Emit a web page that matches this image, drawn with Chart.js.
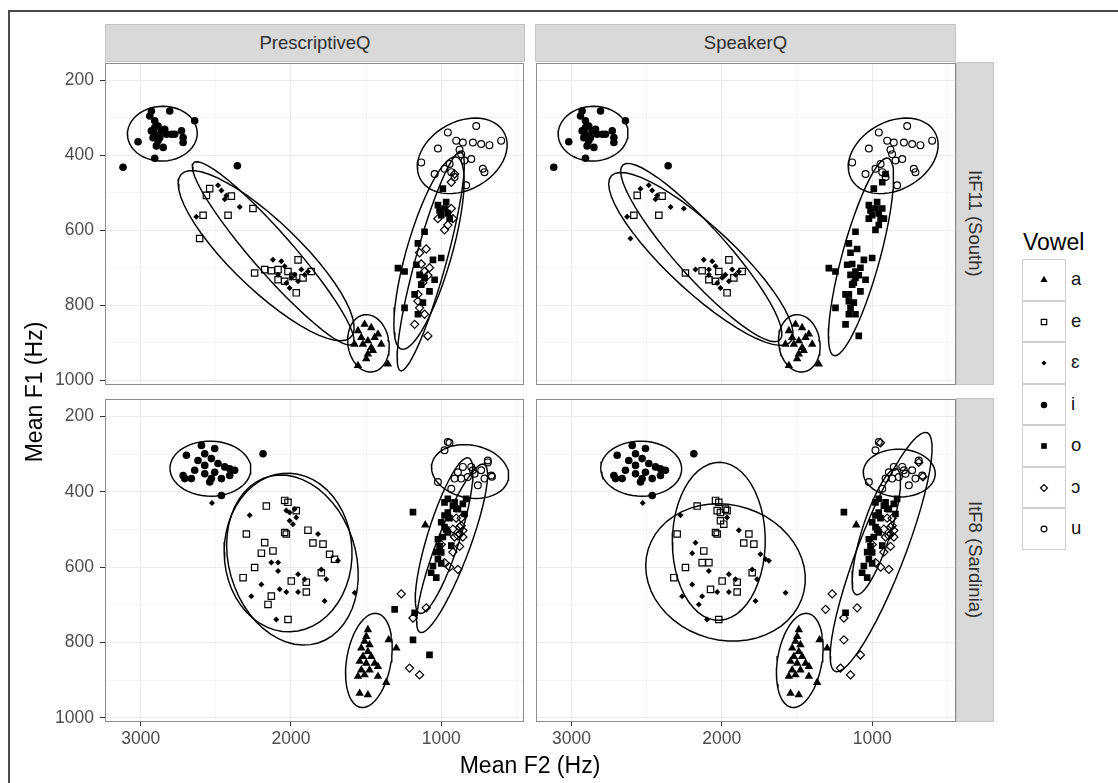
<!DOCTYPE html>
<html>
<head>
<meta charset="utf-8">
<script src="https://cdn.jsdelivr.net/npm/chart.js@4.4.1/dist/chart.umd.min.js"></script>
<style>
html,body{margin:0;padding:0;background:#fff;}
body{width:1118px;height:783px;position:relative;overflow:hidden;font-family:"Liberation Sans",Arial,Helvetica,sans-serif;}
.abs{position:absolute;}
#frame{left:8px;top:10px;width:1300px;height:1000px;border-left:2px solid #4a4a4a;border-top:2px solid #4a4a4a;box-sizing:border-box;}
.stripTop{background:#d9d9d9;border:1px solid #c4c4c4;box-sizing:border-box;display:flex;align-items:center;justify-content:center;font-size:18.5px;color:#2e2e2e;}
.stripRight{background:#d9d9d9;border:1px solid #c4c4c4;box-sizing:border-box;display:flex;align-items:center;justify-content:center;font-size:18.5px;color:#2e2e2e;writing-mode:vertical-rl;}
.title{font-size:23px;color:#000;white-space:nowrap;}
.key{width:44px;height:41.5px;border:1px solid #cfcfcf;box-sizing:border-box;background:#fff;}
.keyLab{font-size:18.5px;color:#111;}
</style>
</head>
<body>
<div id="frame" class="abs"></div>

<canvas id="c00" class="abs" width="500" height="333" style="left:30px;top:57px"></canvas>
<canvas id="c01" class="abs" width="431" height="333" style="left:530px;top:57px"></canvas>
<canvas id="c10" class="abs" width="500" height="360" style="left:30px;top:393px"></canvas>
<canvas id="c11" class="abs" width="431" height="360" style="left:530px;top:393px"></canvas>

<div id="strips"></div>
<div id="titles"></div>
<div id="legend"></div>

<script>
// ---------------- categories and tick labels ----------------
const vowels = ['a', 'e', 'ɛ', 'i', 'o', 'ɔ', 'u'];
const questionnaires = ['PrescriptiveQ', 'SpeakerQ'];
const speakers = ['ItF11 (South)', 'ItF8 (Sardinia)'];
const xMajorTicks = [3000, 2000, 1000];          // labelled
const xMinorTicks = [2500, 1500, 500];           // grid only
const yMajorTicks = [200, 400, 600, 800, 1000];  // labelled
const yMinorTicks = [300, 500, 700, 900];        // grid only
const xTitle = 'Mean F2 (Hz)';
const yTitle = 'Mean F1 (Hz)';
const legendTitle = 'Vowel';

// ---------------- ItF11 (South): tokens (F2, F1 in Hz) ----------------
// same tokens in both questionnaires; only the vowel label can differ
const f11_i_F2 = [2929,2940,2807,2907,2885,2863,2929,2907,2840,2796,2729,2718,2718,2885,2896,2851,3018,2641,2907,2918,2874,3118,2357,2907,2829,2774];
const f11_i_F1 = [282,295,282,308,322,335,335,344,331,344,335,353,366,361,375,379,364,308,408,353,353,432,428,326,344,344];
const f11_a_F2 = [1510,1554,1466,1532,1488,1443,1521,1466,1399,1488,1554,1355,1499,1455,1421,1577];
const f11_a_F1 = [851,868,860,886,895,886,904,913,904,930,961,957,943,921,877,904];
const f11_u_F2 = [767,956,601,900,856,789,734,679,1022,878,867,800,1133,944,845,723,712,1044,978,911,834,933];
const f11_u_F1 = [322,339,361,361,366,366,370,373,382,385,397,410,419,423,414,436,445,450,436,458,480,445];
// front mid vowels (e / ɛ)
const f11_front_F2 = [2563,2397,2585,2419,2253,2608,2541, 2486,2463,2430,2441,2341,2630, 2242,2175,2131,2086,2020,1953,1865,1965,2086,2042, 2120,2064,2042,2086,1998,1953,1909,1887,1931,1976,2031,2009, 1987,1920];
const f11_front_F1 = [507,509,560,560,542,622,489, 480,494,507,517,538,564, 714,705,708,705,710,679,710,767,732,736, 679,683,696,719,727,736,719,710,705,719,741,754, 723,727];
const f11_front_prescQ = ['e','e','e','e','e','e','e', 'ɛ','ɛ','ɛ','ɛ','ɛ','ɛ', 'e','e','e','e','e','e','e','e','e','e', 'ɛ','ɛ','ɛ','ɛ','ɛ','ɛ','ɛ','ɛ','ɛ','ɛ','ɛ','ɛ', 'e','e'];
const f11_front_speakerQ = ['e','e','e','e','ɛ','ɛ','ɛ', 'ɛ','ɛ','ɛ','ɛ','ɛ','ɛ', 'e','ɛ','e','ɛ','e','e','e','e','e','e', 'ɛ','ɛ','ɛ','ɛ','ɛ','ɛ','ɛ','ɛ','ɛ','ɛ','ɛ','ɛ', 'ɛ','e'];
// back mid vowels: labelled o in both / labelled ɔ (PrescriptiveQ) and o (SpeakerQ)
const f11_o_F2 = [989,1022,978,956,1000,944,967,1011,1111,1155,1055,1000,1288,1244,1166,1144,1111,1044,1133,1078,1177,1244,1155,1122];
const f11_o_F1 = [489,533,542,555,560,569,525,547,604,635,679,674,701,710,692,719,727,732,745,763,771,807,824,793];
const f11_oo_F2 = [978,933,1022,922,956,911,933,1100,1133,1111,1122,1078,1144,1089,1155,1144,1111,1177,1089,1155];
const f11_oo_F1 = [599,542,569,569,586,450,472,650,690,710,740,700,660,720,771,807,824,851,882,789];

// ---------------- ItF8 (Sardinia) ----------------
const f8_i_F2 = [2696,2596,2508,2574,2530,2619,2574,2486,2441,2408,2375,2508,2574,2530,2641,2707,2663,2463,2541,2463,2718,2408,2186];
const f8_i_F1 = [303,277,285,299,312,317,330,325,334,339,343,348,352,365,343,365,365,365,374,410,357,357,299];
const f8_a_F2 = [1488,1499,1510,1477,1532,1488,1521,1466,1543,1499,1443,1532,1477,1421,1510,1554,1421,1366,1350,1299,1543,1488,1106];
const f8_a_F1 = [766,784,797,806,815,824,837,837,850,855,855,873,873,864,886,890,890,906,793,815,935,939,488];
const f8_u_F2 = [956,978,856,800,889,823,778,712,667,911,867,1022,756,933,690,789,734, 945,690,662];
const f8_u_F1 = [268,290,334,334,348,361,352,365,357,365,365,374,383,392,317,343,343, 270,322,360];
const f8_u_speakerQ = ['u','u','u','u','u','u','u','u','u','u','u','u','u','u','u','u','u', 'ɔ','ɔ','ɔ'];
const f8_front_F2 = [2164,2042,2020,1965,2297,2042,2031,1887,1854,1787,2175,2120,2197,2242,2319,1998,1898,1898,2131,2153,2020,1743,1710,1798,
                     2526,2275,2031,1976,1965,1987,2009,1820,2131,2086,2086,2197,2264,2075,2031,1953,1953,1909,1798,1765,1776,1576,2098,1687,2009];
const f8_front_F1 = [438,423,428,450,512,508,512,502,536,539,535,557,563,601,628,637,640,666,677,699,739,566,579,615,
                     430,462,450,446,468,486,477,512,588,588,610,646,677,659,666,666,619,632,606,632,690,668,739,583,455];
const f8_front_prescQ = ['e','e','e','e','e','e','e','e','e','e','e','e','e','e','e','e','e','e','e','e','e','e','e','e',
                         'ɛ','ɛ','ɛ','ɛ','ɛ','ɛ','ɛ','ɛ','ɛ','ɛ','ɛ','ɛ','ɛ','ɛ','ɛ','ɛ','ɛ','ɛ','ɛ','ɛ','ɛ','ɛ','ɛ','ɛ','ɛ'];
const f8_front_speakerQ = ['e','e','e','e','e','e','e','ɛ','e','e','ɛ','e','ɛ','e','e','e','e','e','ɛ','ɛ','e','ɛ','ɛ','e',
                           'ɛ','ɛ','e','e','ɛ','e','e','e','e','e','ɛ','ɛ','ɛ','e','ɛ','ɛ','ɛ','ɛ','ɛ','ɛ','ɛ','ɛ','ɛ','ɛ','e'];
const f8_o_F2 = [1188,834,956,978,922,889,856,845,1000,978,956,1022,933,1000,1022,1055,1067,1033,1310,1177,1188,1078,978,911, 900,945,967,989,1011,1000,956,1033];
const f8_o_F1 = [454,419,419,428,437,446,432,459,481,494,508,526,543,561,579,597,615,628,712,721,793,833,463,428, 445,470,500,520,545,590,455,560];
const f8_o_speakerQ = ['o','o','o','o','o','o','o','o','o','o','o','o','o','o','o','o','o','o','ɔ','o','ɔ','ɔ','o','o', 'o','o','o','o','o','o','o','o'];
const f8_oo_F2 = [878,856,889,867,922,878,978,889,1266,1100,1188,1211,1144,900,1000, 867,856,911,922,878,944];
const f8_oo_F1 = [494,503,517,490,499,512,588,606,671,708,735,868,886,470,540, 470,520,520,560,545,600];

// ---------------- assemble groups (label per questionnaire) ----------------
const speakerGroups = [
  [ {F2:f11_i_F2, F1:f11_i_F1, lab:['i','i']},
    {F2:f11_a_F2, F1:f11_a_F1, lab:['a','a']},
    {F2:f11_u_F2, F1:f11_u_F1, lab:['u','u']},
    {F2:f11_front_F2, F1:f11_front_F1, lab:[f11_front_prescQ, f11_front_speakerQ]},
    {F2:f11_o_F2, F1:f11_o_F1, lab:['o','o']},
    {F2:f11_oo_F2, F1:f11_oo_F1, lab:['ɔ','o']} ],
  [ {F2:f8_i_F2, F1:f8_i_F1, lab:['i','i']},
    {F2:f8_a_F2, F1:f8_a_F1, lab:['a','a']},
    {F2:f8_u_F2, F1:f8_u_F1, lab:['u', f8_u_speakerQ]},
    {F2:f8_front_F2, F1:f8_front_F1, lab:[f8_front_prescQ, f8_front_speakerQ]},
    {F2:f8_o_F2, F1:f8_o_F1, lab:['o', f8_o_speakerQ]},
    {F2:f8_oo_F2, F1:f8_oo_F1, lab:['ɔ','ɔ']} ]
];

// ---------------- styles ----------------
const vowelStyle = {
  'a': {pointStyle:'triangle', radius:4.9, filled:true},
  'e': {pointStyle:'rect',     radius:4.5, filled:false},
  'ɛ': {pointStyle:'rectRot',  radius:3.0, filled:true},
  'i': {pointStyle:'circle',   radius:3.8, filled:true},
  'o': {pointStyle:'rect',     radius:4.7, filled:true},
  'ɔ': {pointStyle:'rectRot',  radius:4.1, filled:false},
  'u': {pointStyle:'circle',   radius:3.4, filled:false}
};
const FONT = '"Liberation Sans", Arial, Helvetica, sans-serif';
Chart.defaults.font.family = FONT;

// ---------------- stat_ellipse (type "t", level 0.95) ----------------
function statEllipse(pts, level, segments) {
  level = level || 0.95; segments = segments || 51;
  const n = pts.length, p = 2, nu = 5;
  const xs = pts.map(q => q.x), ys = pts.map(q => q.y);
  const sum = a => a.reduce((s, v) => s + v, 0);
  let w = new Array(n).fill(1);
  let loc = [sum(xs) / n, sum(ys) / n];
  let dx = [], dy = [];
  for (let iter = 0; iter < 25; iter++) {
    const w0 = w.slice();
    dx = xs.map(v => v - loc[0]); dy = ys.map(v => v - loc[1]);
    const sw = sum(w);
    let a = 0, b = 0, c = 0;
    for (let i = 0; i < n; i++) { const f = w[i] / sw; a += f*dx[i]*dx[i]; b += f*dx[i]*dy[i]; c += f*dy[i]*dy[i]; }
    const det = a*c - b*b;
    w = dx.map((_, i) => (nu + p) / (nu + (c*dx[i]*dx[i] - 2*b*dx[i]*dy[i] + a*dy[i]*dy[i]) / det));
    const sw2 = sum(w);
    loc = [sum(xs.map((v, i) => v*w[i])) / sw2, sum(ys.map((v, i) => v*w[i])) / sw2];
    if (w.every((v, i) => Math.abs(v - w0[i]) < 0.01)) break;
  }
  let a = 0, b = 0, c = 0;
  for (let i = 0; i < n; i++) { a += w[i]*dx[i]*dx[i]; b += w[i]*dx[i]*dy[i]; c += w[i]*dy[i]*dy[i]; }
  a /= n; b /= n; c /= n;
  const d = n - 1;
  const fq = (d / 2) * (Math.pow(1 - level, -2 / d) - 1);   // qf(level, 2, d)
  const radius = Math.sqrt(2 * fq);
  const r11 = Math.sqrt(a), r12 = b / r11, r22 = Math.sqrt(Math.max(c - r12*r12, 0));
  const out = [];
  for (let k = 0; k <= segments; k++) {
    const t = 2 * Math.PI * k / segments, ct = Math.cos(t), st = Math.sin(t);
    out.push({x: loc[0] + radius * r11 * ct, y: loc[1] + radius * (r12 * ct + r22 * st)});
  }
  return out;
}

// ---------------- panels ----------------
const panelBorder = {
  id: 'panelBorder',
  afterDraw(chart) {
    const {ctx, chartArea: ar} = chart;
    ctx.save();
    ctx.strokeStyle = '#8c8c8c'; ctx.lineWidth = 1;
    ctx.strokeRect(Math.round(ar.left) + 0.5, Math.round(ar.top) + 0.5, Math.round(ar.right - ar.left) - 1, Math.round(ar.bottom - ar.top) - 1);
    ctx.restore();
  }
};

const isMajorX = v => xMajorTicks.includes(v);
const isMajorY = v => yMajorTicks.includes(v);

function buildPanel(id, row, col) {
  const groups = speakerGroups[row];
  const showX = row === 1, showY = col === 0;
  const pointsByVowel = {};
  vowels.forEach(v => pointsByVowel[v] = []);
  groups.forEach(g => {
    for (let i = 0; i < g.F2.length; i++) {
      const l = Array.isArray(g.lab[col]) ? g.lab[col][i] : g.lab[col];
      pointsByVowel[l].push({x: g.F2[i], y: g.F1[i]});
    }
  });
  const datasets = [];
  vowels.forEach(v => {
    const pts = pointsByVowel[v];
    if (!pts.length) return;
    const st = vowelStyle[v];
    datasets.push({
      label: v, data: pts, order: 1, clip: 0,
      pointStyle: st.pointStyle, pointRadius: st.radius, pointHoverRadius: st.radius,
      pointBackgroundColor: st.filled ? '#000' : 'rgba(0,0,0,0)',
      pointBorderColor: '#000', pointBorderWidth: st.filled ? 0 : 1.2, showLine: false
    });
    if (pts.length >= 3) {
      datasets.push({
        label: v + ' ellipse', data: statEllipse(pts), order: 0, clip: 0,
        showLine: true, pointRadius: 0, pointHoverRadius: 0,
        borderColor: '#000', borderWidth: 1.45, fill: false, tension: 0
      });
    }
  });
  new Chart(document.getElementById(id), {
    type: 'scatter',
    data: {datasets},
    options: {
      responsive: false, animation: false, devicePixelRatio: 1,
      layout: {padding: {top: 5, right: 5, bottom: showX ? 0 : 5, left: showY ? 0 : 5}},
      plugins: {legend: {display: false}, tooltip: {enabled: false}},
      events: [],
      scales: {
        x: {
          type: 'linear', position: 'bottom', reverse: true, min: 447, max: 3238,
          afterBuildTicks: s => { s.ticks = xMajorTicks.concat(xMinorTicks).sort((p, q) => p - q).map(v => ({value: v})); },
          afterFit: s => { s.paddingLeft = 0; s.paddingRight = 0; },
          border: {display: false},
          grid: {
            color: c => isMajorX(c.tick.value) ? '#ebebeb' : '#f4f4f4',
            lineWidth: c => isMajorX(c.tick.value) ? 1 : 0.8,
            drawTicks: showX, tickLength: 4, tickWidth: 1,
            tickColor: c => isMajorX(c.tick.value) ? '#333' : 'rgba(0,0,0,0)'
          },
          ticks: {
            display: showX, autoSkip: false, maxRotation: 0, minRotation: 0,
            color: '#4d4d4d', font: {size: 17.5, family: FONT}, padding: 3,
            callback: v => isMajorX(v) ? String(v) : ''
          }
        },
        y: {
          type: 'linear', position: 'left', reverse: true, min: 153, max: 1011,
          afterBuildTicks: s => { s.ticks = yMajorTicks.concat(yMinorTicks).sort((p, q) => p - q).map(v => ({value: v})); },
          afterFit: s => { s.width = showY ? 75 : 0; s.paddingTop = 0; s.paddingBottom = 0; },
          border: {display: false},
          grid: {
            color: c => isMajorY(c.tick.value) ? '#ebebeb' : '#f4f4f4',
            lineWidth: c => isMajorY(c.tick.value) ? 1 : 0.8,
            drawTicks: showY, tickLength: 5, tickWidth: 1,
            tickColor: c => isMajorY(c.tick.value) ? '#333' : 'rgba(0,0,0,0)'
          },
          ticks: {
            display: showY, autoSkip: false,
            color: '#4d4d4d', font: {size: 17.5, family: FONT}, padding: 6,
            callback: v => isMajorY(v) ? String(v) : ''
          }
        }
      }
    },
    plugins: [panelBorder]
  });
}
buildPanel('c00', 0, 0);
buildPanel('c01', 0, 1);
buildPanel('c10', 1, 0);
buildPanel('c11', 1, 1);

// ---------------- strips, titles ----------------
const strips = document.getElementById('strips');
const colLeft = [105, 535], colWidth = [420, 421];
const rowTop = [62, 398], rowHeight = [323, 324];
questionnaires.forEach((q, j) => {
  const d = document.createElement('div');
  d.className = 'abs stripTop';
  d.style.cssText = `left:${colLeft[j]}px;top:24px;width:${colWidth[j]}px;height:38px;`;
  d.textContent = q; strips.appendChild(d);
});
speakers.forEach((s, i) => {
  const d = document.createElement('div');
  d.className = 'abs stripRight';
  d.style.cssText = `left:956px;top:${rowTop[i]}px;width:38px;height:${rowHeight[i]}px;`;
  d.textContent = s; strips.appendChild(d);
});
const titles = document.getElementById('titles');
const xt = document.createElement('div');
xt.className = 'abs title';
xt.style.cssText = 'left:330px;width:400px;text-align:center;top:752px;line-height:26px;';
xt.textContent = xTitle; titles.appendChild(xt);
const yt = document.createElement('div');
yt.className = 'abs title';
yt.style.cssText = 'left:-166px;top:379px;width:400px;text-align:center;line-height:26px;transform:rotate(-90deg);';
yt.textContent = yTitle; titles.appendChild(yt);

// ---------------- legend ----------------
const legend = document.getElementById('legend');
const lt = document.createElement('div');
lt.className = 'abs title';
lt.style.cssText = 'left:1023px;top:229px;line-height:26px;';
lt.textContent = legendTitle; legend.appendChild(lt);
vowels.forEach((v, k) => {
  const top = 259 + k * 41.5;
  const box = document.createElement('div');
  box.className = 'abs key';
  box.style.cssText = `left:1022px;top:${top}px;`;
  const cv = document.createElement('canvas');
  cv.width = 44; cv.height = 41;
  cv.style.cssText = 'position:absolute;left:-1px;top:-1px;';
  box.appendChild(cv);
  legend.appendChild(box);
  const ctx = cv.getContext('2d');
  const st = vowelStyle[v];
  ctx.fillStyle = st.filled ? '#000' : 'rgba(0,0,0,0)';
  ctx.strokeStyle = '#000';
  ctx.lineWidth = st.filled ? 0 : 1.2;
  Chart.helpers.drawPoint(ctx, {pointStyle: st.pointStyle, radius: st.radius * 0.85, borderWidth: st.filled ? 0 : 1.2, rotation: 0}, 22, 21);
  const lab = document.createElement('div');
  lab.className = 'abs keyLab';
  lab.style.cssText = `left:1071px;top:${top + 8}px;line-height:24px;`;
  lab.textContent = v; legend.appendChild(lab);
});
</script>
</body>
</html>
